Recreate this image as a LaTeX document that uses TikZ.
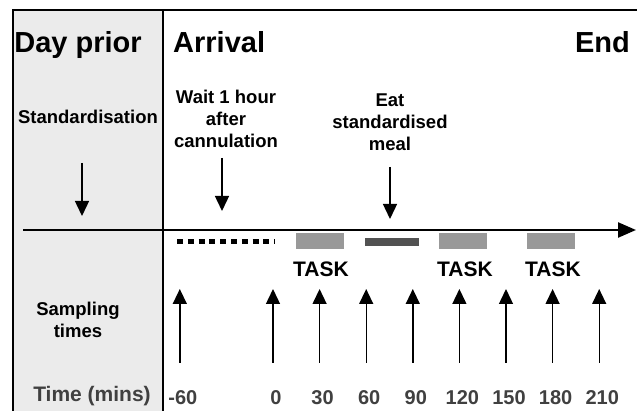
\documentclass[tikz,border=0pt]{standalone}
\usepackage{fontspec}
\setmainfont{Liberation Sans}
\usetikzlibrary{arrows.meta,positioning}

\begin{document}
\begin{tikzpicture}[x=1pt, y=-1pt,
			head/.style   = {font=\fontsize{29}{32}\selectfont\bfseries, inner sep=0pt, anchor=base},
			note/.style   = {font=\fontsize{18.5}{22}\selectfont\bfseries, align=center, inner sep=0pt, anchor=base},
			tasklbl/.style= {font=\fontsize{21}{24}\selectfont\bfseries, inner sep=0pt, anchor=base},
			tick/.style   = {font=\fontsize{20}{24}\selectfont\bfseries, text=black!75, inner sep=0pt, anchor=base},
			taskbar/.style= {fill=black!40, minimum width=48pt, minimum height=16pt, inner sep=0pt},
			mealbar/.style= {fill=black!68, minimum width=54pt, minimum height=8pt, inner sep=0pt},
			frame/.style  = {line width=1.6pt},
			pointer/.style= {->, line width=1.4pt},
			>={Triangle[length=15pt, width=14pt]}]
			
			\useasboundingbox (0,0) rectangle (637,411);
			
			% day prior panel and frame
			\fill[black!8] (13,10) rectangle (163,411);
			\draw[frame] (637,10) -- (13,10) -- (13,411);
			\draw[frame] (163,10) -- (163,411);
			
			\node[head] (day) at (78,53) {Day prior};
			\node[head, anchor=base west] (arr) at (173,53) {Arrival};
			\node[head, anchor=base east] (end) at (630,53) {End};
			
			% multi-line notes: base is the last line
			\node[note] (std) at (88,124) {Standardisation};
			\node[note] (wait) at (226,148) {Wait 1 hour\\after\\cannulation};
			\node[note] (meal) at (390,151) {Eat\\standardised\\meal};
			\node[note] (samp) at (78,338) {Sampling\\times};
			\node[tick, font=\fontsize{21}{24}\selectfont\bfseries] (tmin) at (92,402) {Time (mins)};
			
			% timeline
			\coordinate (t0) at (23,230);
			\coordinate (t1) at (636,230);
			\draw[->, line width=2.4pt, >={Triangle[length=18pt, width=15pt]}] (t0) -- (t1);
			
			\coordinate (stda) at (82,163);  \coordinate (stdb) at (82,216);
			\coordinate (waita) at (222,158); \coordinate (waitb) at (222,211);
			\coordinate (meala) at (390,167); \coordinate (mealb) at (390,219);
			\foreach \n in {std, wait, meal}
			\draw[pointer] (\n a) -- (\n b);
			
			% wait period and tasks
			\coordinate (w0) at (177,242);
			\coordinate (w1) at (275,242);
			\draw[line width=5pt, dash pattern=on 6pt off 4.8pt] (w0) -- (w1);
			
			\node[taskbar] (b1) at (320,241) {};
			\node[mealbar] (b2) at (392,242) {};
			\node[taskbar] (b3) at (463,241) {};
			\node[taskbar] (b4) at (551,241) {};
			
			\node[tasklbl] (k1) at (321,277) {TASK};
			\node[tasklbl] (k2) at (465,277) {TASK};
			\node[tasklbl] (k3) at (553,277) {TASK};
			
			% sampling times
			\foreach \t [count=\i] in {-60,0,30,60,90,120,150,180,210}{
				\coordinate (s\i) at ({273+\t*1.5533},363);
				\coordinate (p\i) at ({273+\t*1.5533},289);
				\draw[pointer] (s\i) -- (p\i);
				\node[tick] (l\i) at ({276+\t*1.5533},404) {\t};
			}
		\end{tikzpicture}
\end{document}
